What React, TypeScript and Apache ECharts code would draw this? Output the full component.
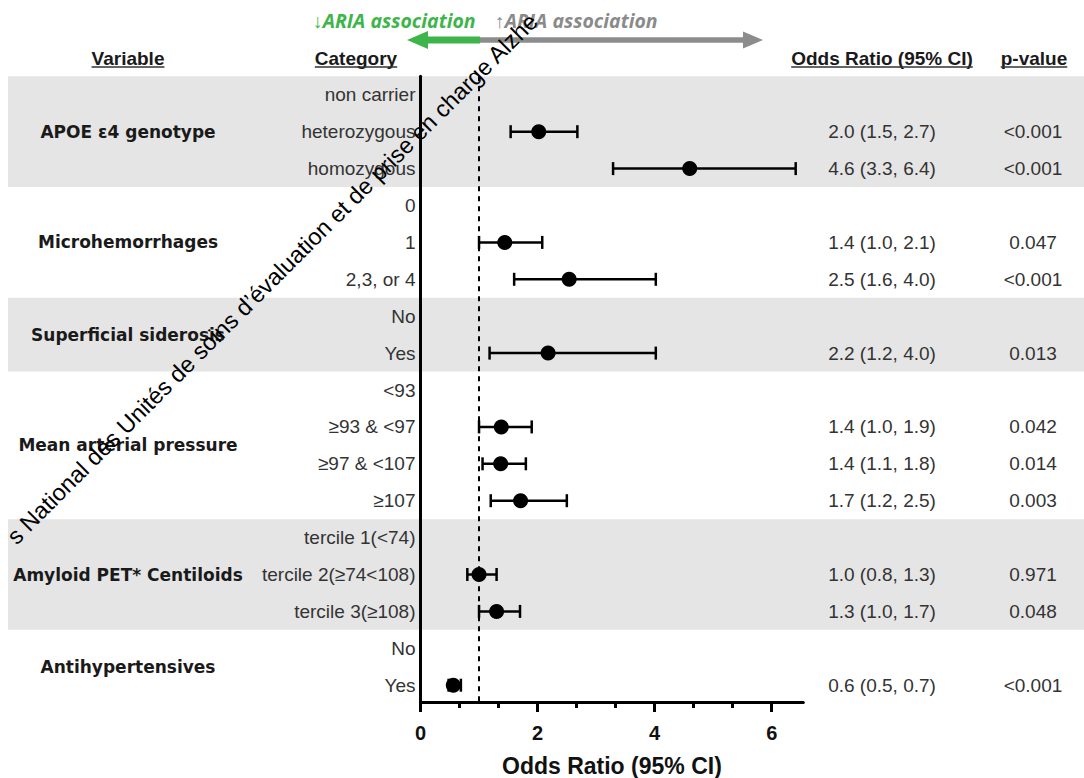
import React, { useEffect, useRef } from "react";
import * as echarts from "echarts";

// ---------- data ----------
const categories = [
  "non carrier", "heterozygous", "homozygous",
  "0", "1", "2,3, or 4",
  "No", "Yes",
  "<93", "≥93 & <97", "≥97 & <107", "≥107",
  "tercile 1(<74)", "tercile 2(≥74<108)", "tercile 3(≥108)",
  "No", "Yes",
];
const oddsRatio = [null, 2.02, 4.6, null, 1.44, 2.54, null, 2.18, null, 1.38, 1.37, 1.71, null, 1.0, 1.3, null, 0.56];
const ciLower = [null, 1.54, 3.29, null, 1.0, 1.6, null, 1.18, null, 1.0, 1.06, 1.2, null, 0.8, 1.0, null, 0.48];
const ciUpper = [null, 2.68, 6.41, null, 2.08, 4.02, null, 4.02, null, 1.9, 1.8, 2.5, null, 1.3, 1.7, null, 0.69];
const pValues = ["", "<0.001", "<0.001", "", "0.047", "<0.001", "", "0.013", "", "0.042", "0.014", "0.003", "", "0.971", "0.048", "", "<0.001"];
const variables = [
  "APOE ε4 genotype", "Microhemorrhages", "Superficial siderosis",
  "Mean arterial pressure", "Amyloid PET* Centiloids", "Antihypertensives",
];
const variableRowCounts = [3, 3, 2, 4, 3, 2];
const xTicks = [0, 2, 4, 6];
const headers = ["Variable", "Category", "Odds Ratio (95% CI)", "p-value"];
const axisTitle = "Odds Ratio (95% CI)";
const lowerLabel = "↓ARIA association";
const higherLabel = "↑ARIA association";
const watermark = "s National des Unités de soins d’évaluation et de prise en charge Alzhe";

// ---------- layout ----------
const W = 1084;
const H = 778;
const GRID_TOP = 76.35;
const GRID_H = 625.65;
const PLOT_LEFT = 420.5;
const PLOT_W = 382.8;
const X_MAX = 6.54;
const ROW_MIN = -0.5;
const ROW_MAX = 16.455;
const FONT = '"Liberation Sans", Arial, sans-serif';
const headerX = [128, 356, 882, 1034];
const HEADER_Y = 58;
const VAR_X = 128;
const OR_X = 882;
const P_X = 1033;

export default function App() {
  const ref = useRef<HTMLDivElement>(null);

  useEffect(() => {
    document.body.style.margin = "0";
    if (!ref.current) return;
    const chart = echarts.init(ref.current, null, { renderer: "svg" });

    const rows = categories.map((_, i) => i);
    const minorTicks: number[] = [];
    for (let i = 0; i < xTicks.length - 1; i++) {
      const a = xTicks[i], b = xTicks[i + 1];
      minorTicks.push(a + (b - a) / 3, a + (2 * (b - a)) / 3);
    }

    const pointData: number[][] = [];
    const barData: number[][] = [];
    const tableData: any[] = [];
    rows.forEach((i) => {
      if (oddsRatio[i] != null) {
        pointData.push([oddsRatio[i] as number, i]);
        barData.push([ciLower[i] as number, ciUpper[i] as number, i]);
        tableData.push([i, `${(oddsRatio[i] as number).toFixed(1)} (${(ciLower[i] as number).toFixed(1)}, ${(ciUpper[i] as number).toFixed(1)})`, pValues[i]]);
      }
    });

    const varData: any[] = [];
    const bandData: number[][] = [];
    let start = 0;
    variables.forEach((v, k) => {
      const n = variableRowCounts[k];
      varData.push([start + (n - 1) / 2, v]);
      if (k % 2 === 0) bandData.push([start - 0.5, start + n - 0.5]);
      start += n;
    });

    // measure header widths for underline
    const ctx = document.createElement("canvas").getContext("2d")!;
    ctx.font = `bold 19px ${FONT}`;
    const headerGraphics: any[] = [];
    headers.forEach((h, i) => {
      const w = ctx.measureText(h).width;
      headerGraphics.push({
        type: "text", x: headerX[i], y: HEADER_Y,
        style: { text: h, font: `bold 19px ${FONT}`, fill: "#1a1a1a", textAlign: "center", textVerticalAlign: "middle" },
      });
      headerGraphics.push({
        type: "line",
        shape: { x1: headerX[i] - w / 2, y1: HEADER_Y + 9, x2: headerX[i] + w / 2, y2: HEADER_Y + 9 },
        style: { stroke: "#333", lineWidth: 1.5 },
      });
    });

    const option: any = {
      animation: false,
      textStyle: { fontFamily: FONT },
      grid: [
        { left: PLOT_LEFT, top: GRID_TOP, width: PLOT_W, height: GRID_H, containLabel: false, outerBoundsMode: "none" },
        { left: 0, top: GRID_TOP, width: W, height: GRID_H, containLabel: false, outerBoundsMode: "none" },
      ],
      xAxis: [
        {
          gridIndex: 0, type: "value", min: 0, max: X_MAX, interval: 2, z: 3,
          axisLine: { show: true, onZero: false, lineStyle: { color: "#000", width: 3 } },
          axisTick: { show: true, length: 10, customValues: xTicks, lineStyle: { color: "#000", width: 3 } },
          axisLabel: { customValues: xTicks, margin: 21, fontSize: 20, fontWeight: "bold", color: "#111", fontFamily: FONT },
          splitLine: { show: false },
          name: axisTitle, nameLocation: "middle", nameGap: 52,
          nameTextStyle: { fontSize: 23, fontWeight: "bold", color: "#111", fontFamily: FONT },
        },
        {
          gridIndex: 0, type: "value", min: 0, max: X_MAX, position: "bottom", z: 3,
          axisLine: { show: false, onZero: false },
          axisTick: { show: true, length: 6, customValues: minorTicks, lineStyle: { color: "#000", width: 3 } },
          axisLabel: { show: false },
          splitLine: { show: false },
        },
        { gridIndex: 1, type: "value", min: 0, max: W, show: false },
      ],
      yAxis: [
        {
          gridIndex: 0, type: "value", inverse: true, min: ROW_MIN, max: ROW_MAX, z: 3,
          axisLine: { show: true, onZero: false, lineStyle: { color: "#000", width: 3 } },
          axisTick: { show: false },
          splitLine: { show: false },
          axisLabel: {
            customValues: rows, margin: 5, fontSize: 19, color: "#333", fontFamily: FONT,
            formatter: (v: number) => categories[Math.round(v)] ?? "",
          },
        },
        { gridIndex: 1, type: "value", inverse: true, min: ROW_MIN, max: ROW_MAX, show: false },
      ],
      series: [
        {
          type: "custom", xAxisIndex: 2, yAxisIndex: 1, z: 0, silent: true,
          data: bandData, encode: { y: [0, 1] },
          renderItem: (_p: any, api: any) => {
            const a = api.coord([8, api.value(0)]);
            const b = api.coord([W, api.value(1)]);
            return { type: "rect", shape: { x: a[0], y: a[1], width: b[0] - a[0], height: b[1] - a[1] }, style: { fill: "#e5e5e5" } };
          },
        },
        {
          type: "custom", xAxisIndex: 2, yAxisIndex: 1, z: 6, silent: true,
          data: varData, encode: { y: 0 },
          renderItem: (_p: any, api: any) => {
            const idx = _p.dataIndex;
            const p = api.coord([VAR_X, varData[idx][0]]);
            return {
              type: "text", x: p[0], y: p[1],
              style: { text: varData[idx][1], font: `bold 17px "DejaVu Sans", sans-serif`, fill: "#1a1a1a", textAlign: "center", textVerticalAlign: "middle" },
            };
          },
        },
        {
          type: "custom", xAxisIndex: 2, yAxisIndex: 1, z: 6, silent: true,
          data: tableData, encode: { y: 0 },
          renderItem: (_p: any, api: any) => {
            const d = tableData[_p.dataIndex];
            const a = api.coord([OR_X, d[0]]);
            const b = api.coord([P_X, d[0]]);
            return {
              type: "group",
              children: [
                { type: "text", x: a[0], y: a[1], style: { text: d[1], font: `19px ${FONT}`, fill: "#333", textAlign: "center", textVerticalAlign: "middle" } },
                { type: "text", x: b[0], y: b[1], style: { text: d[2], font: `19px ${FONT}`, fill: "#333", textAlign: "center", textVerticalAlign: "middle" } },
              ],
            };
          },
        },
        {
          type: "custom", xAxisIndex: 0, yAxisIndex: 0, z: 4, silent: true,
          data: barData, encode: { x: [0, 1], y: 2 },
          renderItem: (_p: any, api: any) => {
            const y = api.value(2);
            const a = api.coord([api.value(0), y]);
            const b = api.coord([api.value(1), y]);
            const h = 6.5;
            const st = { stroke: "#000", lineWidth: 2.5 };
            return {
              type: "group",
              children: [
                { type: "line", shape: { x1: a[0], y1: a[1], x2: b[0], y2: b[1] }, style: st },
                { type: "line", shape: { x1: a[0], y1: a[1] - h, x2: a[0], y2: a[1] + h }, style: st },
                { type: "line", shape: { x1: b[0], y1: b[1] - h, x2: b[0], y2: b[1] + h }, style: st },
              ],
            };
          },
        },
        {
          type: "scatter", xAxisIndex: 0, yAxisIndex: 0, z: 5, silent: true,
          data: pointData, symbolSize: 15, itemStyle: { color: "#000", opacity: 1 },
          markLine: {
            silent: true, symbol: ["none", "none"], label: { show: false },
            lineStyle: { color: "#000", width: 2, type: [5, 5] },
            data: [{ xAxis: 1 }],
          },
        },
      ],
      graphic: [
        ...headerGraphics,
        {
          type: "line", shape: { x1: 480, y1: 40, x2: 756, y2: 40 },
          style: { stroke: "#8c8c8c", lineWidth: 5.5 },
        },
        { type: "polygon", shape: { points: [[763, 40], [743, 31.5], [743, 48.5]] }, style: { fill: "#8c8c8c" } },
        {
          type: "line", shape: { x1: 480, y1: 40, x2: 420, y2: 40 },
          style: { stroke: "#3db54a", lineWidth: 7 },
        },
        { type: "polygon", shape: { points: [[407, 40], [428, 31], [428, 49]] }, style: { fill: "#3db54a" } },
        {
          type: "text", x: 313, y: 20,
          style: { text: lowerLabel, font: `italic bold 19.5px "Open Sans", sans-serif`, fill: "#3db54a", textAlign: "left", textVerticalAlign: "middle" },
        },
        {
          type: "text", x: 495, y: 20,
          style: { text: higherLabel, font: `italic bold 19.5px "Open Sans", sans-serif`, fill: "#8a8a8a", textAlign: "left", textVerticalAlign: "middle" },
        },
        {
          type: "text", x: 11, y: 540, rotation: Math.PI / 4, z: 100,
          style: { text: watermark, font: `23.5px ${FONT}`, fill: "#000", textAlign: "left", textVerticalAlign: "middle" },
        },
      ],
    };

    chart.setOption(option);
    return () => chart.dispose();
  }, []);

  return <div ref={ref} style={{ width: W, height: H }} />;
}
